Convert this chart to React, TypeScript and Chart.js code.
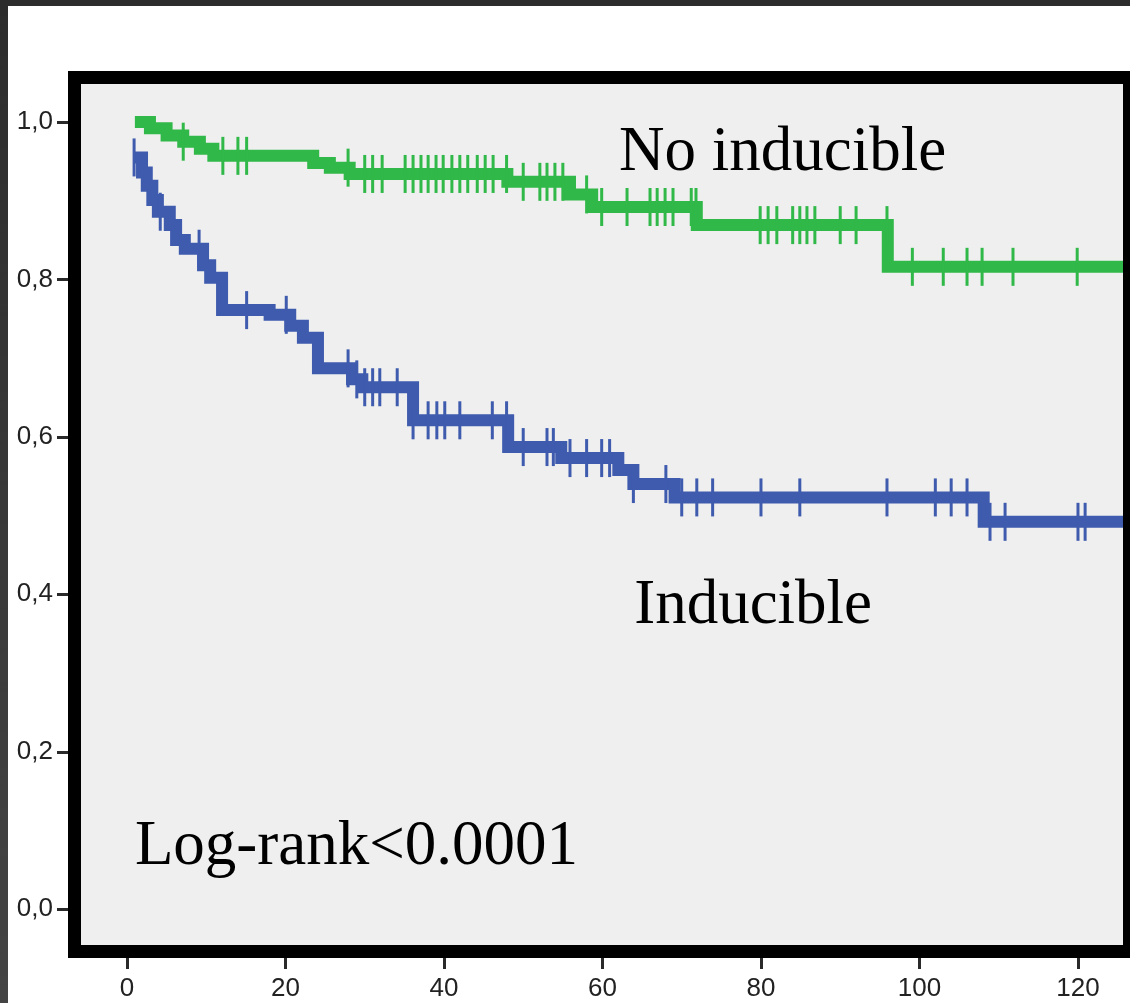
import React, { useEffect, useRef } from 'react';
import { Chart, registerables } from 'chart.js';

Chart.register(...registerables);

// Axis tick labels
const xTickValues = [0, 20, 40, 60, 80, 100, 120];
const yTickValues = [0, 0.2, 0.4, 0.6, 0.8, 1.0];

// "No inducible" group: step times (months) and survival from that time onward
const noInducibleTimes = [1.0, 2.9, 5.0, 7.1, 9.2, 10.9, 23.5, 25.6, 28.1, 48.0, 55.9, 58.7, 71.9, 96.0, 126];
const noInducibleSurvival = [1.0, 0.992, 0.983, 0.975, 0.966, 0.957, 0.948, 0.942, 0.934, 0.924, 0.908, 0.892, 0.869, 0.816, 0.816];
const noInducibleCensored = [
  7.1, 12.1, 14.0, 15.1, 27.9, 30.0, 31.0, 32.2, 35.1, 36.1, 37.1, 38.0, 39.0, 39.9, 41.0, 42.0,
  43.0, 44.2, 45.2, 46.2, 47.9, 50.0, 52.1, 53.0, 54.0, 55.0, 58.0, 59.9, 63.1, 66.0, 66.9, 67.9,
  68.9, 71.2, 71.8, 79.9, 80.9, 82.0, 84.0, 84.9, 85.8, 86.8, 90.0, 92.0, 95.9, 99.1, 103.0, 106.0,
  107.9, 111.8, 119.9,
];

// "Inducible" group
const inducibleTimes = [
  1.0, 1.9, 2.5, 3.2, 3.9, 5.4, 6.2, 7.3, 9.6, 10.5, 12.0, 18.0, 20.6, 22.2, 24.1, 28.4, 29.7,
  36.1, 48.1, 54.8, 62.0, 63.9, 69.1, 108.1, 126,
];
const inducibleSurvival = [
  0.955, 0.936, 0.919, 0.901, 0.886, 0.869, 0.85, 0.839, 0.818, 0.802, 0.761, 0.755, 0.741, 0.726,
  0.687, 0.673, 0.663, 0.621, 0.587, 0.573, 0.558, 0.54, 0.523, 0.492, 0.492,
];
const inducibleCensored = [
  0.9, 4.2, 9.1, 15.1, 20.1, 27.9, 29.0, 30.0, 31.0, 31.9, 34.1, 36.1, 38.0, 39.1, 40.1, 42.0,
  46.1, 47.9, 50.0, 53.0, 53.8, 55.9, 58.0, 59.9, 60.9, 63.9, 68.0, 70.0, 71.9, 73.9, 80.0, 84.9,
  95.9, 102.0, 104.0, 106.0, 108.9, 110.8, 120.0, 120.9,
];

// Text annotations (data coordinates)
const annotationTexts = ['No inducible', 'Inducible', 'Log-rank<0.0001'];
const annotationX = [62.1, 64.0, 1.0];
const annotationY = [0.939, 0.363, 0.057];

const GREEN = '#30b848';
const BLUE = '#3f5bae';
const TICK_FONT = '26px "Liberation Sans", Arial, sans-serif';

function survivalAt(times: number[], surv: number[], t: number): number {
  let s = surv[0];
  for (let i = 0; i < times.length; i++) {
    if (times[i] <= t + 1e-9) s = surv[i];
  }
  return s;
}

const framePlugin = {
  id: 'frameDecor',
  beforeDraw(chart: any) {
    const { ctx, chartArea: a, width, height } = chart;
    ctx.save();
    ctx.fillStyle = '#ffffff';
    ctx.fillRect(0, 0, width, height);
    const g = ctx.createLinearGradient(0, 0, 0, height);
    g.addColorStop(0, '#2c2c2c');
    g.addColorStop(1, '#444444');
    ctx.fillStyle = g;
    ctx.fillRect(0, 0, 8, height);
    ctx.fillStyle = '#2c2c2c';
    ctx.fillRect(0, 0, width, 6);
    ctx.fillStyle = '#efefef';
    ctx.fillRect(a.left, a.top, a.right - a.left, a.bottom - a.top);
    ctx.restore();
  },
  afterDraw(chart: any) {
    const { ctx, chartArea: a, scales } = chart;
    const t = 13;
    ctx.save();
    ctx.fillStyle = '#000000';
    ctx.fillRect(a.left - t, a.top - t, a.right - a.left + 2 * t, t);
    ctx.fillRect(a.left - t, a.bottom, a.right - a.left + 2 * t, t);
    ctx.fillRect(a.left - t, a.top - t, t, a.bottom - a.top + 2 * t);
    ctx.fillRect(a.right, a.top - t, t, a.bottom - a.top + 2 * t);

    ctx.strokeStyle = '#2a2a2a';
    ctx.lineWidth = 3;
    ctx.beginPath();
    for (const v of yTickValues) {
      const y = Math.round(scales.y.getPixelForValue(v)) + 0.5;
      ctx.moveTo(a.left - t - 11, y);
      ctx.lineTo(a.left - t, y);
    }
    for (const v of xTickValues) {
      const x = Math.round(scales.x.getPixelForValue(v)) + 0.5;
      ctx.moveTo(x, a.bottom + t);
      ctx.lineTo(x, a.bottom + t + 11);
    }
    ctx.stroke();

    // x-axis tick labels
    ctx.fillStyle = '#222222';
    ctx.font = TICK_FONT;
    ctx.textAlign = 'center';
    ctx.textBaseline = 'top';
    for (const v of xTickValues) {
      ctx.fillText(String(v), scales.x.getPixelForValue(v), a.bottom + 31);
    }

    ctx.fillStyle = '#000000';
    ctx.textAlign = 'left';
    ctx.textBaseline = 'alphabetic';
    ctx.font = '63px "Liberation Serif", "Times New Roman", serif';
    annotationTexts.forEach((txt, i) => {
      ctx.fillText(txt, scales.x.getPixelForValue(annotationX[i]), scales.y.getPixelForValue(annotationY[i]));
    });
    ctx.restore();
  },
};

export default function App() {
  const canvasRef = useRef<HTMLCanvasElement | null>(null);

  useEffect(() => {
    const canvas = canvasRef.current;
    if (!canvas) return;

    const stepData = (times: number[], surv: number[]) => times.map((x, i) => ({ x, y: surv[i] }));
    const censorData = (cens: number[], times: number[], surv: number[]) =>
      cens.map((x) => ({ x, y: survivalAt(times, surv, x) }));

    const lineDs = (label: string, times: number[], surv: number[], color: string) => ({
      label,
      data: stepData(times, surv),
      stepped: 'before',
      borderColor: color,
      borderWidth: 12,
      borderCapStyle: 'butt',
      borderJoinStyle: 'miter',
      pointRadius: 0,
      fill: false,
      order: 2,
    });
    const censorDs = (label: string, cens: number[], times: number[], surv: number[], color: string) => ({
      label,
      data: censorData(cens, times, surv),
      showLine: false,
      pointStyle: 'line',
      rotation: 90,
      pointRadius: 19,
      pointBorderWidth: 3,
      pointBorderColor: color,
      pointBackgroundColor: color,
      borderColor: color,
      order: 1,
    });

    const chart = new Chart(canvas, {
      type: 'line',
      data: {
        datasets: [
          lineDs('No inducible', noInducibleTimes, noInducibleSurvival, GREEN),
          lineDs('Inducible', inducibleTimes, inducibleSurvival, BLUE),
          censorDs('No inducible censored', noInducibleCensored, noInducibleTimes, noInducibleSurvival, GREEN),
          censorDs('Inducible censored', inducibleCensored, inducibleTimes, inducibleSurvival, BLUE),
        ],
      } as any,
      options: {
        animation: false,
        responsive: false,
        maintainAspectRatio: false,
        devicePixelRatio: 1,
        layout: { autoPadding: false, padding: { top: 84, right: 7, bottom: 0, left: 0 } },
        plugins: { legend: { display: false }, tooltip: { enabled: false } },
        events: [],
        scales: {
          x: {
            type: 'linear',
            min: -5.8,
            max: 125.68,
            grid: { display: false, drawTicks: false },
            border: { display: false },
            afterBuildTicks: (scale: any) => {
              scale.ticks = xTickValues.map((v) => ({ value: v }));
            },
            afterFit: (scale: any) => {
              scale.height = 58;
              scale.paddingLeft = 0;
              scale.paddingRight = 0;
            },
            ticks: { display: false },
          },
          y: {
            type: 'linear',
            min: -0.0457,
            max: 1.0483,
            grid: { display: false, drawTicks: false },
            border: { display: false },
            afterBuildTicks: (scale: any) => {
              scale.ticks = yTickValues.map((v) => ({ value: v }));
            },
            afterFit: (scale: any) => {
              scale.width = 81;
              scale.paddingTop = 0;
              scale.paddingBottom = 0;
            },
            ticks: {
              color: '#222222',
              font: { family: '"Liberation Sans", Arial, sans-serif', size: 26 },
              padding: 28,
              autoSkip: false,
              callback: (v: any) => Number(v).toFixed(1).replace('.', ','),
            },
          },
        },
      } as any,
      plugins: [framePlugin],
    });

    return () => chart.destroy();
  }, []);

  return (
    <div style={{ position: 'fixed', left: 0, top: 0, width: 1130, height: 1003, background: '#ffffff' }}>
      <canvas ref={canvasRef} width={1130} height={1003} style={{ display: 'block', width: 1130, height: 1003 }} />
    </div>
  );
}
